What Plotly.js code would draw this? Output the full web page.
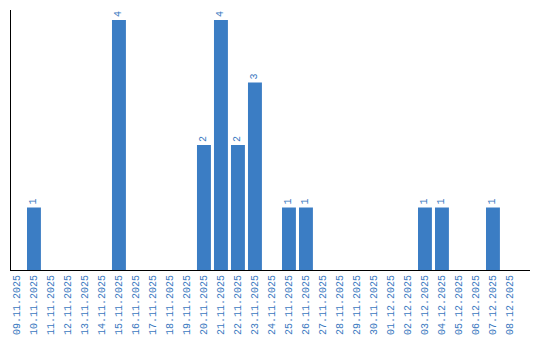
<!DOCTYPE html>
<html><head><meta charset="utf-8">
<script src="https://cdn.plot.ly/plotly-3.0.1.min.js"></script>
<style>html,body{margin:0;padding:0;background:#fff}#c{width:540px;height:340px}</style>
</head><body><div id="c"></div>
<script>
const dates = ["09.11.2025","10.11.2025","11.11.2025","12.11.2025","13.11.2025","14.11.2025","15.11.2025","16.11.2025","17.11.2025","18.11.2025","19.11.2025","20.11.2025","21.11.2025","22.11.2025","23.11.2025","24.11.2025","25.11.2025","26.11.2025","27.11.2025","28.11.2025","29.11.2025","30.11.2025","01.12.2025","02.12.2025","03.12.2025","04.12.2025","05.12.2025","06.12.2025","07.12.2025","08.12.2025"];
const counts = [0,1,0,0,0,0,4,0,0,0,0,2,4,2,3,0,1,1,0,0,0,0,0,0,1,1,0,0,1,0];
const labels = counts.map(v => v > 0 ? String(v) : "");
const barColor = "#3b7dc4";
const textColor = "#3a78c0";
Plotly.newPlot("c", [{
  type: "bar", x: dates, y: counts, text: labels, width: 0.82,
  marker: {color: barColor},
  textposition: "outside", textangle: -90, cliponaxis: false,
  textfont: {family: "Liberation Mono", size: 10, color: textColor},
  hoverinfo: "none"
}], {
  width: 540, height: 340,
  margin: {l: 11, r: 10, t: 10, b: 70},
  paper_bgcolor: "#fff", plot_bgcolor: "#fff",
  showlegend: false,
  xaxis: {type: "category", range: [-0.35, 30.18], tickangle: -90, ticks: "", ticklen: 0,
    tickfont: {family: "Liberation Mono", size: 10, color: textColor},
    showline: true, linecolor: "#000", linewidth: 1, showgrid: false, zeroline: false},
  yaxis: {range: [0, 4.16], showticklabels: false, ticks: "", showgrid: false, zeroline: false,
    showline: true, linecolor: "#000", linewidth: 1}
}, {staticPlot: true, displayModeBar: false});
</script></body></html>
